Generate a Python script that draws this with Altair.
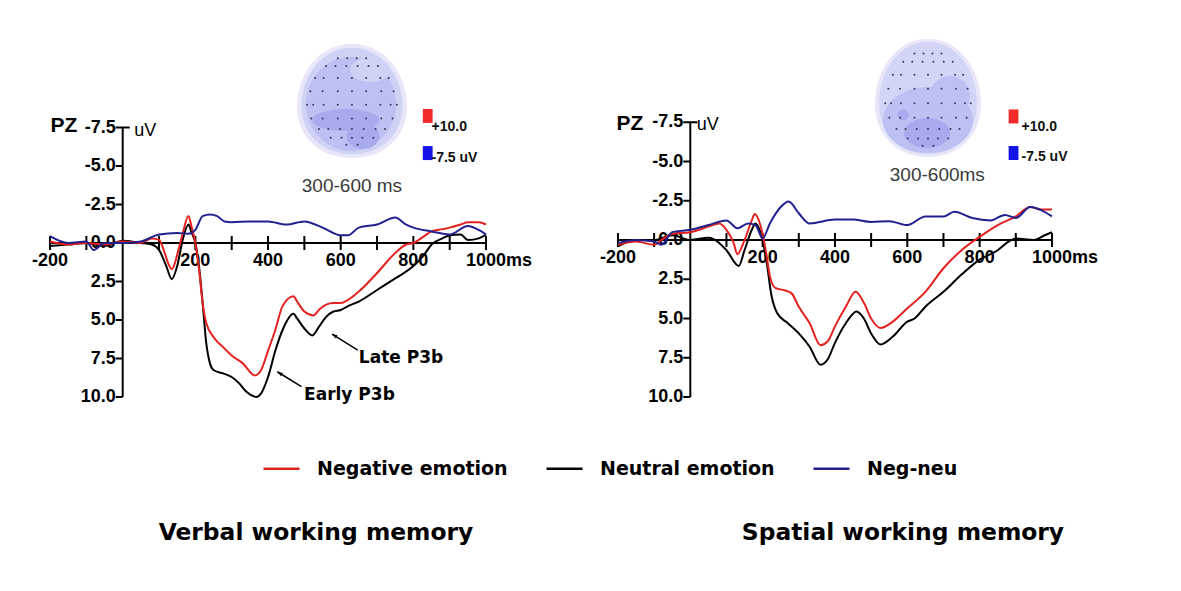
import altair as alt
import pandas as pd

SERIES = ["Negative emotion", "Neutral emotion", "Neg-neu"]
COLORS = ["#e3211f", "#000000", "#20208f"]

# ---------------- Verbal working memory (left panel) ----------------
verbal_neg_t = [-200, -150, -100, -50, 0, 50, 80, 100, 115, 125, 135, 145, 155, 165, 181, 190, 200, 210, 220, 230,
                250, 280, 300, 330, 364, 380, 400, 420, 440, 470, 480, 500, 525, 540, 560, 580, 600, 620, 650, 700,
                750, 780, 800, 830, 850, 880, 900, 930, 950, 980, 1000]
verbal_neg_v = [-0.1, 0.1, 0.0, 0.1, -0.1, 0.0, -0.3, -0.2, 0.6, 1.3, 1.7, 1.2, 0.3, -0.6, -1.75, -1.0, 0.0, 1.7, 3.9, 5.2,
                6.1, 6.85, 7.3, 7.8, 8.6, 8.3, 7.0, 5.65, 4.1, 3.45, 3.8, 4.45, 4.7, 4.35, 4.0, 3.9, 3.9, 3.7, 3.15, 1.95,
                0.65, 0.1, 0.0, -0.45, -0.75, -0.9, -1.0, -1.2, -1.35, -1.35, -1.2]

verbal_neu_t = [-200, -150, -100, -50, 0, 50, 80, 100, 120, 135, 150, 165, 181, 190, 200, 210, 220, 230, 240, 250,
                280, 300, 320, 340, 369, 380, 400, 420, 440, 470, 480, 500, 522, 540, 560, 580, 600, 620, 650, 700,
                750, 800, 830, 850, 880, 900, 930, 950, 980, 1000]
verbal_neu_v = [0.2, 0.1, 0.0, 0.2, -0.15, 0.0, 0.1, 0.45, 1.5, 2.35, 1.5, -0.2, -1.2, -0.65, 0.0, 1.5, 3.9, 6.5, 7.8, 8.25,
                8.5, 8.7, 9.1, 9.65, 10.0, 9.8, 8.7, 7.0, 5.65, 4.6, 4.9, 5.55, 6.0, 5.45, 4.8, 4.45, 4.35, 4.1, 3.8, 3.05,
                2.3, 1.5, 0.75, 0.1, -0.3, -0.5, -0.55, -0.2, -0.3, -0.55]

verbal_dif_t = [-200, -150, -100, -80, -50, 0, 50, 100, 150, 180, 200, 220, 240, 260, 280, 300, 350, 400, 450, 500,
                550, 600, 620, 650, 700, 750, 780, 800, 850, 900, 950, 980, 1000]
verbal_dif_v = [-0.45, 0.0, -0.1, 0.45, 0.0, 0.0, -0.1, -0.55, -0.65, -0.6, -0.85, -1.75, -1.85, -1.75, -1.4, -1.35,
                -1.4, -1.4, -1.2, -1.4, -1.0, -0.5, -0.5, -1.0, -1.2, -1.65, -1.2, -1.0, -0.75, -0.55, -1.1, -0.85, -0.55]

# ---------------- Spatial working memory (right panel) ----------------
spatial_neg_t = [-200, -150, -100, -80, -50, 0, 50, 80, 100, 120, 130, 150, 170, 178, 195, 210, 220, 235, 260, 280,
                 300, 330, 360, 380, 400, 430, 457, 480, 500, 526, 560, 600, 650, 700, 750, 800, 850, 900, 940, 970, 1000]
spatial_neg_v = [0.3, 0.1, 0.3, 0.0, -0.4, -0.5, -0.85, -1.05, -0.65, 0.2, 0.9, 0.0, -1.25, -1.65, -0.85, 0.85, 2.3, 3.05,
                 3.2, 3.4, 4.25, 5.3, 6.7, 6.45, 5.5, 4.25, 3.3, 4.0, 5.0, 5.6, 5.2, 4.35, 3.3, 1.8, 0.65, -0.2, -0.95,
                 -1.5, -2.1, -1.95, -1.95]

spatial_neu_t = [-200, -150, -100, -50, 0, 50, 100, 134, 150, 170, 180, 195, 210, 225, 240, 270, 300, 330, 360, 380,
                 400, 430, 460, 480, 500, 526, 560, 600, 620, 650, 700, 750, 800, 850, 880, 900, 950, 980, 1000]
spatial_neu_v = [0.4, 0.0, 0.0, -0.3, 0.0, -0.15, 0.65, 1.65, 0.65, -0.65, -1.05, -0.4, 1.25, 3.6, 4.65, 5.3, 5.95, 6.8,
                 7.95, 7.6, 6.55, 5.3, 4.55, 5.0, 5.95, 6.65, 6.15, 5.2, 5.0, 4.25, 3.3, 2.2, 1.25, 0.65, 0.1, -0.1, 0.0,
                 -0.3, -0.5]

spatial_dif_t = [-200, -150, -100, -80, -50, 0, 50, 100, 130, 160, 180, 200, 220, 250, 272, 300, 330, 400, 450, 500,
                 550, 600, 650, 700, 730, 780, 830, 870, 900, 940, 970, 1000]
spatial_dif_v = [0.2, 0.0, 0.1, 0.3, -0.5, -0.65, -0.95, -1.25, -0.75, -1.05, -0.95, -0.1, -1.05, -2.1, -2.45, -1.7,
                 -1.05, -1.3, -1.3, -1.15, -1.2, -0.95, -1.5, -1.5, -1.8, -1.4, -1.25, -1.6, -1.4, -2.1, -1.9, -1.5]

# ---------------- axis content ----------------
x_tick_vals = [-200, -100, 100, 200, 300, 400, 500, 600, 700, 800, 900, 1000]
x_label_vals = [-200, 200, 400, 600, 800]
x_label_text = ["-200", "200", "400", "600", "800"]
x_end_val = 1000
x_end_text = "1000ms"
y_tick_vals = [-7.5, -5.0, -2.5, 2.5, 5.0, 7.5, 10.0]
y_label_vals = [-7.5, -5.0, -2.5, 0.0, 2.5, 5.0, 7.5, 10.0]
y_label_text = ["-7.5", "-5.0", "-2.5", "0.0", "2.5", "5.0", "7.5", "10.0"]

# ---------------- layout (pixel anchors of each panel) ----------------
H = 575
LEFT = dict(x0=122.7, k=0.36333, y0=243.0, s=15.4, left=8, width=582)
RIGHT = dict(x0=690.3, k=0.36167, y0=240.0, s=15.7, left=590, width=583)


def xdom(p):
    return [(p["left"] - p["x0"]) / p["k"], (p["left"] + p["width"] - p["x0"]) / p["k"]]


def ydom(p):
    return [(8 - p["y0"]) / p["s"], (8 + H - p["y0"]) / p["s"]]


# annotation positions (ms, uV)
LEFT_TXT = dict(pz=(-161.5, -7.6), uv=(32.0, -7.27), head=(631.0, -9.29), head_w=105, head_h=108,
                caption=(631.0, -3.7), caption_text="300-600 ms", sq_t=839.5, red_v=-8.25, blue_v=-5.84,
                lab_t=850.0, plus_v=-7.53, minus_v=-5.52, title=(532.0, 18.83), title_text="Verbal working memory",
                blobs=[(0, 1, 110, 114, "#e7e7f9"), (0, 1, 101, 106, "#cfd1f5"), (-1, 4, 90, 94, "#bdc0f2"),
                       (18, -30, 40, 24, "#cfd1f5"), (-6, 20, 67, 22, "#a7abed"), (11, 36, 33, 26, "#a7abed")])
RIGHT_TXT = dict(pz=(-166.7, -7.39), uv=(17.7, -7.32), head=(657.2, -9.04), head_w=100, head_h=115,
                 caption=(683.0, -4.14), caption_text="300-600ms", sq_t=893.7, red_v=-7.87, blue_v=-5.54,
                 lab_t=916.0, plus_v=-7.18, minus_v=-5.27, title=(588.0, 18.66), title_text="Spatial working memory",
                 blobs=[(0, 0, 106, 118, "#e7e7f9"), (0, 0, 98, 112, "#d3d5f7"), (0, 22, 90, 66, "#bdc0f2"),
                        (22, -2, 40, 40, "#bdc0f2"), (-1, 35, 46, 30, "#a7abed"), (-25, 17, 11, 11, "#a7abed")])

# P3b annotations (left panel only)
ann_text = ["Late P3b", "Early P3b"]
ann_text_t = [766.0, 624.0]
ann_text_v = [7.47, 9.87]
arrow_tail_t = [647.0, 492.0]
arrow_tail_v = [6.95, 9.33]
arrow_head_t = [576.0, 425.6]
arrow_head_v = [5.91, 8.36]

E_ROWS = [
    (-0.86, [-0.3, -0.1, 0.1, 0.3]),
    (-0.70, [-0.55, -0.35, -0.12, 0.12, 0.35, 0.55]),
    (-0.45, [-0.78, -0.6, -0.3, 0.0, 0.3, 0.6, 0.78]),
    (-0.18, [-0.88, -0.62, -0.3, 0.0, 0.3, 0.62, 0.88]),
    (0.10, [-0.95, -0.82, -0.6, -0.3, 0.0, 0.3, 0.6, 0.82, 0.95]),
    (0.38, [-0.86, -0.62, -0.3, 0.0, 0.3, 0.62, 0.86]),
    (0.60, [-0.7, -0.5, -0.25, 0.0, 0.25, 0.5, 0.7]),
    (0.78, [-0.45, -0.22, 0.0, 0.22, 0.45]),
    (0.92, [-0.12, 0.12]),
]

K = 0.5523


def ellipse_path(a):
    return (f"M{-a},0 C{-a},{-K} {-K*a},-1 0,-1 C{K*a},-1 {a},{-K} {a},0 "
            f"C{a},{K} {K*a},1 0,1 C{-K*a},1 {-a},{K} {-a},0 Z")


def egg_path(a):
    return (f"M0,-1 C{0.62*a},-1 {a},-0.45 {a},0.1 C{a},0.62 {0.6*a},1 0,1 "
            f"C{-0.6*a},1 {-a},0.62 {-a},0.1 C{-a},-0.45 {-0.62*a},-1 0,-1 Z")


RECT = "M-0.7,-1 L0.7,-1 L0.7,1 L-0.7,1 Z"
ARROW = "M0,0 L0.6,1.8 L-0.6,1.8 Z"

LEG = alt.Legend(orient="none", legendX=254, legendY=441, direction="horizontal", title=None,
                 symbolType="stroke", symbolSize=1296, symbolStrokeWidth=2.5, labelFont="DejaVu Sans",
                 labelFontWeight="bold", labelFontSize=19, labelColor="black", labelOffset=16,
                 columnPadding=33, padding=0, labelLimit=400)
COLOR = dict(scale=alt.Scale(domain=SERIES, range=COLORS), legend=LEG)


def panel(p, tx, neg, neu, dif, with_ann):
    X = alt.X("t:Q", scale=alt.Scale(domain=xdom(p), nice=False, zero=False), axis=None)
    Y = alt.Y("v:Q", scale=alt.Scale(domain=ydom(p), nice=False, zero=False, reverse=True), axis=None)
    kx, sy = p["k"], p["s"]
    layers = []

    # topographic head
    hc_t, hc_v = tx["head"]
    rows = []
    for i, (dx, dy, w, h, col) in enumerate(tx["blobs"]):
        shp = egg_path(w / h) if i < 2 else ellipse_path(w / h)
        rows.append(dict(t=hc_t + dx / kx, v=hc_v + dy / sy, sz=h * h, shp=shp, col=col, i=i))
    blobs = pd.DataFrame(rows)
    layers.append(alt.Chart(blobs).mark_point(filled=True, opacity=1, strokeWidth=0).encode(
        x=X, y=Y, size=alt.Size("sz:Q", scale=None, legend=None),
        shape=alt.Shape("shp:N", scale=None, legend=None),
        fill=alt.Fill("col:N", scale=None, legend=None), order=alt.Order("i:Q")))
    erows = []
    for ry, xs in E_ROWS:
        for rx in xs:
            erows.append(dict(t=hc_t + rx * tx["head_w"] / 2 * 0.9 / kx, v=hc_v + ry * tx["head_h"] / 2 * 0.9 / sy))
    layers.append(alt.Chart(pd.DataFrame(erows)).mark_point(filled=True, opacity=1, size=4, color="#3a3a5c",
                                                            strokeWidth=0).encode(x=X, y=Y))
    sq = pd.DataFrame(dict(t=[tx["sq_t"], tx["sq_t"]], v=[tx["red_v"], tx["blue_v"]], col=["#f22a2a", "#1414e6"]))
    layers.append(alt.Chart(sq).mark_point(filled=True, opacity=1, shape=RECT, size=196, strokeWidth=0).encode(
        x=X, y=Y, fill=alt.Fill("col:N", scale=None, legend=None)))
    sqt = pd.DataFrame(dict(t=[tx["lab_t"], tx["lab_t"]], v=[tx["plus_v"], tx["minus_v"]], label=["+10.0", "-7.5 uV"]))
    layers.append(alt.Chart(sqt).mark_text(align="left", baseline="middle", font="Liberation Sans", fontSize=14,
                                           fontWeight="bold", color="#111").encode(x=X, y=Y, text="label:N"))
    cap = pd.DataFrame(dict(t=[tx["caption"][0]], v=[tx["caption"][1]], label=[tx["caption_text"]]))
    layers.append(alt.Chart(cap).mark_text(align="center", baseline="middle", font="Liberation Sans", fontSize=19,
                                           color="#3a3a3a").encode(x=X, y=Y, text="label:N"))

    # axes
    axes = pd.DataFrame(dict(t=[-200, 0], v=[0, -7.5], t2=[1000, 0], v2=[0, 10.0]))
    layers.append(alt.Chart(axes).mark_rule(color="black", strokeWidth=2).encode(x=X, y=Y, x2="t2:Q", y2="v2:Q"))
    tl_u = 7 / sy
    tl_m = 7 / kx
    ticks = pd.DataFrame(dict(
        t=x_tick_vals + [-tl_m] * len(y_tick_vals),
        t2=x_tick_vals + [tl_m if v == -7.5 else 0 for v in y_tick_vals],
        v=[-tl_u] * len(x_tick_vals) + y_tick_vals,
        v2=[tl_u] * len(x_tick_vals) + y_tick_vals))
    layers.append(alt.Chart(ticks).mark_rule(color="black", strokeWidth=2).encode(x=X, y=Y, x2="t2:Q", y2="v2:Q"))
    ylab = pd.DataFrame(dict(t=[-7 / kx] * len(y_label_vals), v=y_label_vals, label=y_label_text))
    layers.append(alt.Chart(ylab).mark_text(align="right", baseline="middle", font="Liberation Sans", fontSize=18,
                                            fontWeight="bold", color="black").encode(x=X, y=Y, text="label:N"))
    lab_v = 18 / sy
    xlab = pd.DataFrame(dict(t=x_label_vals, v=[lab_v] * len(x_label_vals), label=x_label_text))
    layers.append(alt.Chart(xlab).mark_text(align="center", baseline="middle", font="Liberation Sans", fontSize=18,
                                            fontWeight="bold", color="black").encode(x=X, y=Y, text="label:N"))
    xend = pd.DataFrame(dict(t=[x_end_val], v=[lab_v], label=[x_end_text]))
    layers.append(alt.Chart(xend).mark_text(align="left", baseline="middle", font="Liberation Sans", fontSize=18,
                                            fontWeight="bold", color="black", dx=-20).encode(x=X, y=Y, text="label:N"))
    pz = pd.DataFrame(dict(t=[tx["pz"][0]], v=[tx["pz"][1]], label=["PZ"]))
    layers.append(alt.Chart(pz).mark_text(align="center", baseline="middle", font="Liberation Sans", fontSize=21,
                                          fontWeight="bold", color="black").encode(x=X, y=Y, text="label:N"))
    uv = pd.DataFrame(dict(t=[tx["uv"][0]], v=[tx["uv"][1]], label=["uV"]))
    layers.append(alt.Chart(uv).mark_text(align="left", baseline="middle", font="Liberation Sans", fontSize=18,
                                          color="black").encode(x=X, y=Y, text="label:N"))

    # curves
    for (tt, vv), name in [(neu, SERIES[1]), (neg, SERIES[0]), (dif, SERIES[2])]:
        df = pd.DataFrame(dict(t=tt, v=vv, series=[name] * len(tt)))
        layers.append(alt.Chart(df).mark_line(interpolate="monotone", strokeWidth=2).encode(
            x=X, y=Y, color=alt.Color("series:N", **COLOR)))

    if with_ann:
        arr = pd.DataFrame(dict(t=arrow_tail_t, v=arrow_tail_v, t2=arrow_head_t, v2=arrow_head_v))
        layers.append(alt.Chart(arr).mark_rule(color="black", strokeWidth=1.5).encode(x=X, y=Y, x2="t2:Q", y2="v2:Q"))
        heads = pd.DataFrame(dict(t=arrow_head_t, v=arrow_head_v))
        layers.append(alt.Chart(heads).mark_point(filled=True, opacity=1, shape=ARROW, size=36, angle=302,
                                                  color="black", strokeWidth=0).encode(x=X, y=Y))
        at = pd.DataFrame(dict(t=ann_text_t, v=ann_text_v, label=ann_text))
        layers.append(alt.Chart(at).mark_text(align="center", baseline="middle", font="DejaVu Sans", fontSize=17,
                                              fontWeight="bold", color="black").encode(x=X, y=Y, text="label:N"))

    title = pd.DataFrame(dict(t=[tx["title"][0]], v=[tx["title"][1]], label=[tx["title_text"]]))
    layers.append(alt.Chart(title).mark_text(align="center", baseline="middle", font="DejaVu Sans", fontSize=23.4,
                                             fontWeight="bold", color="black").encode(x=X, y=Y, text="label:N"))
    return alt.layer(*layers).properties(width=p["width"], height=H)


left = panel(LEFT, LEFT_TXT, (verbal_neg_t, verbal_neg_v), (verbal_neu_t, verbal_neu_v),
             (verbal_dif_t, verbal_dif_v), True)
right = panel(RIGHT, RIGHT_TXT, (spatial_neg_t, spatial_neg_v), (spatial_neu_t, spatial_neu_v),
              (spatial_dif_t, spatial_dif_v), False)

chart = alt.hconcat(left, right, spacing=0, bounds="flush").properties(
    padding=0, background="white").configure_view(stroke=None)

chart.save("out.html", embed_options={"renderer": "svg", "actions": False})
